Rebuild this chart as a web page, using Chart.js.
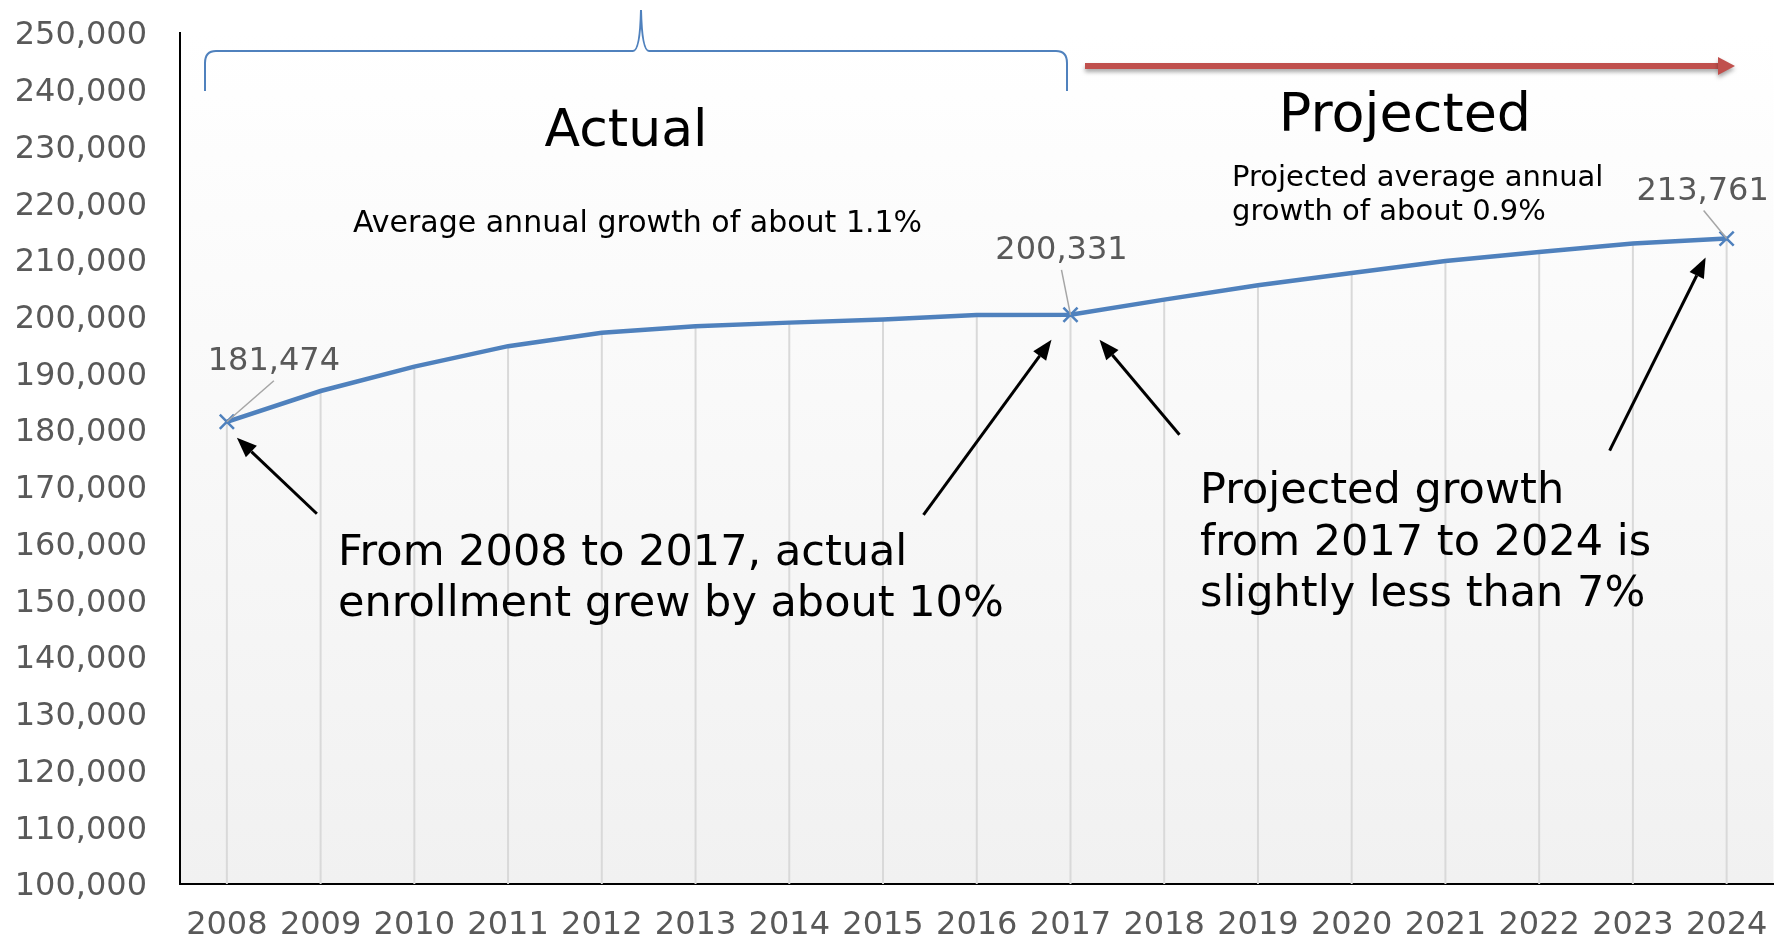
<!DOCTYPE html>
<html>
<head>
<meta charset="utf-8">
<title>Enrollment: actual and projected</title>
<script src="https://cdn.jsdelivr.net/npm/chart.js@4.4.1/dist/chart.umd.min.js"></script>
<style>
    html, body { margin: 0; padding: 0; background: #ffffff; }
    #chartBox { width: 1786px; height: 942px; }
</style>
</head>
<body>
<div id="chartBox"><canvas id="enrollmentChart" width="1786" height="942"></canvas></div>
<script>
// Chart data
const years = ['2008', '2009', '2010', '2011', '2012', '2013', '2014', '2015', '2016',
               '2017', '2018', '2019', '2020', '2021', '2022', '2023', '2024'];
const enrollment = [181474, 186900, 191200, 194800, 197150, 198300, 198950, 199500, 200300,
                    200331, 203000, 205550, 207700, 209800, 211400, 212900, 213761];
const yMin = 100000;
const yMax = 250000;
const yStep = 10000;
// points that carry a marker and a value label
const labeledPoints = [0, 9, 16];

const FONT = '"DejaVu Sans", Verdana, sans-serif';
const LINE_BLUE = '#4f81bd';

// background gradient + drop lines from each point down to the axis
const plotBackground = {
    id: 'plotBackground',
    beforeDraw(chart) {
        const { ctx, chartArea: a } = chart;
        const grad = ctx.createLinearGradient(0, a.top, 0, a.bottom);
        grad.addColorStop(0, '#ffffff');
        grad.addColorStop(1, '#f1f1f1');
        ctx.save();
        ctx.fillStyle = grad;
        ctx.fillRect(a.left, a.top, a.right - a.left, a.bottom - a.top);
        ctx.restore();
    },
    beforeDatasetsDraw(chart) {
        const { ctx, chartArea: a } = chart;
        const pts = chart.getDatasetMeta(0).data;
        ctx.save();
        ctx.strokeStyle = '#d9d9d9';
        ctx.lineWidth = 2;
        pts.forEach(p => {
            ctx.beginPath();
            ctx.moveTo(p.x, p.y);
            ctx.lineTo(p.x, a.bottom);
            ctx.stroke();
        });
        ctx.restore();
    }
};

function drawArrow(ctx, x1, y1, x2, y2) {
    const ang = Math.atan2(y2 - y1, x2 - x1);
    const len = 20, half = 8;
    const bx = x2 - len * Math.cos(ang);
    const by = y2 - len * Math.sin(ang);
    ctx.beginPath();
    ctx.moveTo(x1, y1);
    ctx.lineTo(bx, by);
    ctx.stroke();
    ctx.beginPath();
    ctx.moveTo(x2, y2);
    ctx.lineTo(bx + half * Math.sin(ang), by - half * Math.cos(ang));
    ctx.lineTo(bx - half * Math.sin(ang), by + half * Math.cos(ang));
    ctx.closePath();
    ctx.fill();
}

// value labels, arrows, brace and text boxes
const annotations = {
    id: 'annotations',
    afterDatasetsDraw(chart) {
        const ctx = chart.ctx;
        const pts = chart.getDatasetMeta(0).data;

        // value labels with leader lines
        const labelOffsets = {
            0: { dx: 47, dy: -52, lx: 47, ly: -41 },
            9: { dx: -9, dy: -56, lx: -9, ly: -45 },
            16: { dx: -24, dy: -39, lx: -23, ly: -28 }
        };
        ctx.save();
        labeledPoints.forEach(i => {
            const p = pts[i];
            const o = labelOffsets[i];
            ctx.strokeStyle = '#a6a6a6';
            ctx.lineWidth = 1.5;
            ctx.beginPath();
            ctx.moveTo(p.x + o.lx, p.y + o.ly);
            ctx.lineTo(p.x, p.y);
            ctx.stroke();
            ctx.fillStyle = '#595959';
            ctx.font = '32px ' + FONT;
            ctx.textAlign = 'center';
            ctx.textBaseline = 'alphabetic';
            ctx.fillText(enrollment[i].toLocaleString('en-US'), p.x + o.dx, p.y + o.dy);
        });
        ctx.restore();

        // black arrows pointing at the marked points
        const p0 = pts[0], p9 = pts[9], p16 = pts[16];
        ctx.save();
        ctx.strokeStyle = '#000000';
        ctx.fillStyle = '#000000';
        ctx.lineWidth = 3;
        drawArrow(ctx, p0.x + 90, p0.y + 92, p0.x + 10, p0.y + 16);
        drawArrow(ctx, p9.x - 147, p9.y + 200, p9.x - 19, p9.y + 25);
        drawArrow(ctx, p9.x + 109, p9.y + 120, p9.x + 29, p9.y + 25);
        drawArrow(ctx, p16.x - 117, p16.y + 212, p16.x - 21, p16.y + 19);
        ctx.restore();

        // blue brace over the actual years
        ctx.save();
        ctx.strokeStyle = LINE_BLUE;
        ctx.lineWidth = 2;
        ctx.beginPath();
        ctx.moveTo(205, 91);
        ctx.lineTo(205, 63);
        ctx.quadraticCurveTo(205, 51, 216, 51);
        ctx.lineTo(633, 51);
        ctx.quadraticCurveTo(640, 51, 641, 10);
        ctx.quadraticCurveTo(642, 51, 649, 51);
        ctx.lineTo(1056, 51);
        ctx.quadraticCurveTo(1067, 51, 1067, 63);
        ctx.lineTo(1067, 91);
        ctx.stroke();
        ctx.restore();

        // red arrow over the projected years
        ctx.save();
        ctx.shadowColor = 'rgba(0,0,0,0.35)';
        ctx.shadowBlur = 4;
        ctx.shadowOffsetY = 3;
        ctx.strokeStyle = '#c0504d';
        ctx.fillStyle = '#c0504d';
        ctx.lineWidth = 6;
        ctx.beginPath();
        ctx.moveTo(1085, 66);
        ctx.lineTo(1720, 66);
        ctx.stroke();
        ctx.beginPath();
        ctx.moveTo(1735, 66);
        ctx.lineTo(1718, 57);
        ctx.lineTo(1718, 75);
        ctx.closePath();
        ctx.fill();
        ctx.restore();

        // text
        ctx.save();
        ctx.fillStyle = '#000000';
        ctx.textBaseline = 'alphabetic';
        ctx.textAlign = 'center';
        ctx.font = '52px ' + FONT;
        ctx.fillText('Actual', 626, 146);
        ctx.font = '54px ' + FONT;
        ctx.fillText('Projected', 1405, 131);

        ctx.textAlign = 'left';
        ctx.font = '30px ' + FONT;
        ctx.fillText('Average annual growth of about 1.1%', 353, 232);
        ctx.font = '29px ' + FONT;
        ctx.fillText('Projected average annual', 1232, 186);
        ctx.fillText('growth of about 0.9%', 1232, 220);

        ctx.font = '43px ' + FONT;
        ctx.fillText('From 2008 to 2017, actual', 338, 565);
        ctx.fillText('enrollment grew by about 10%', 338, 616);
        ctx.fillText('Projected growth', 1200, 503);
        ctx.fillText('from 2017 to 2024 is', 1200, 555);
        ctx.fillText('slightly less than 7%', 1200, 606);
        ctx.restore();
    }
};

// drop the automatic label padding so the plot area follows layout.padding
function noScalePadding(scale) {
    scale.paddingTop = 0;
    scale.paddingBottom = 0;
    scale.paddingLeft = 0;
    scale.paddingRight = 0;
}

document.addEventListener('DOMContentLoaded', function() {
    Chart.defaults.font.family = FONT;
    const ctx = document.getElementById('enrollmentChart').getContext('2d');
    new Chart(ctx, {
        type: 'line',
        data: {
            labels: years,
            datasets: [{
                label: 'Enrollment',
                data: enrollment,
                borderColor: LINE_BLUE,
                backgroundColor: LINE_BLUE,
                borderWidth: 4.5,
                tension: 0,
                fill: false,
                pointStyle: 'crossRot',
                pointBorderWidth: 2.5,
                pointRadius: c => labeledPoints.includes(c.dataIndex) ? 10 : 0,
                pointHoverRadius: 0
            }]
        },
        options: {
            responsive: false,
            animation: false,
            devicePixelRatio: 1,
            layout: { padding: { top: 33, right: 2, bottom: 0, left: 0 } },
            plugins: {
                legend: { display: false },
                tooltip: { enabled: false }
            },
            scales: {
                x: {
                    offset: true,
                    grid: { display: false, drawTicks: false },
                    border: { display: true, color: '#000000', width: 2 },
                    ticks: {
                        color: '#595959',
                        font: { size: 32 },
                        padding: 22,
                        maxRotation: 0,
                        autoSkip: false
                    },
                    afterFit: scale => { scale.height = 58; noScalePadding(scale); }
                },
                y: {
                    min: yMin,
                    max: yMax,
                    grid: { display: false, drawTicks: false },
                    border: { display: true, color: '#000000', width: 2 },
                    ticks: {
                        stepSize: yStep,
                        color: '#595959',
                        font: { size: 32 },
                        padding: 33,
                        labelOffset: 3,
                        callback: v => v.toLocaleString('en-US')
                    },
                    afterFit: scale => { scale.width = 180; noScalePadding(scale); }
                }
            }
        },
        plugins: [plotBackground, annotations]
    });
});
</script>
</body>
</html>
